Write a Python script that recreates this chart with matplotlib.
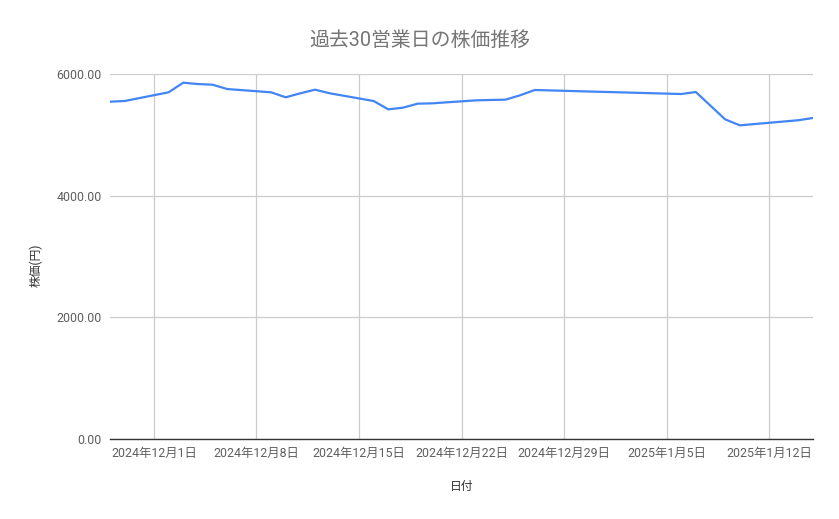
import matplotlib
matplotlib.use('Agg')
import matplotlib.pyplot as plt
import matplotlib.dates as mdates
from matplotlib.ticker import FuncFormatter, FixedLocator
import datetime as dt

plt.rcParams['font.family'] = ['Roboto', 'Noto Sans CJK JP', 'DejaVu Sans']

# 30 business days (Japanese market calendar)
dates = [
    '2024-11-28', '2024-11-29',
    '2024-12-02', '2024-12-03', '2024-12-04', '2024-12-05', '2024-12-06',
    '2024-12-09', '2024-12-10', '2024-12-11', '2024-12-12', '2024-12-13',
    '2024-12-16', '2024-12-17', '2024-12-18', '2024-12-19', '2024-12-20',
    '2024-12-23', '2024-12-24', '2024-12-25', '2024-12-26', '2024-12-27',
    '2024-12-30',
    '2025-01-06', '2025-01-07', '2025-01-08', '2025-01-09', '2025-01-10',
    '2025-01-14', '2025-01-15',
]
prices = [
    5545, 5556,
    5699, 5857, 5835, 5824, 5753,
    5699, 5617, 5683, 5742, 5683,
    5556, 5419, 5446, 5512, 5518,
    5567, 5573, 5578, 5650, 5737,
    5717,
    5671, 5704, 5479, 5255, 5156,
    5240, 5277,
]
y_ticks = [0, 2000, 4000, 6000]

title = '過去30営業日の株価推移'
x_label = '日付'
y_label = '株価(円)'

x = [dt.datetime.strptime(d, '%Y-%m-%d') for d in dates]

fig = plt.figure(figsize=(8.39, 5.19), dpi=100)
ax = fig.add_axes([110/839, 1-439/519, (813-110)/839, (439-74)/519])

ax.plot(x, prices, color='#4285F4', lw=1.6, solid_joinstyle='round')

ax.set_xlim(x[0], x[-1])
ax.set_ylim(0, 6000)

ax.yaxis.set_major_locator(FixedLocator(y_ticks))
ax.yaxis.set_major_formatter(FuncFormatter(lambda v, p: f'{v:.2f}'))
ax.xaxis.set_major_locator(mdates.WeekdayLocator(byweekday=mdates.SU))
ax.xaxis.set_major_formatter(FuncFormatter(
    lambda v, p: (lambda d: f'{d.year}年{d.month}月{d.day}日')(mdates.num2date(v))))

ax.grid(True, color='#cccccc', lw=0.9)
ax.set_axisbelow(True)
for s in ['top', 'right', 'left']:
    ax.spines[s].set_visible(False)
ax.spines['bottom'].set_color('#333333')
ax.spines['bottom'].set_linewidth(1.0)
ax.spines['bottom'].set_zorder(3)

ax.tick_params(axis='both', length=0, labelsize=8.9, colors='#5f5f5f')
ax.tick_params(axis='x', pad=6)
ax.tick_params(axis='y', pad=6)

fig.text(0.5, 1 - 40/519, title, fontsize=14.3, color='#757575',
         ha='center', va='center')
ax.set_xlabel(x_label, fontsize=8.5, color='#333333')
ax.set_ylabel(y_label, fontsize=8.5, color='#333333')
ax.xaxis.set_label_coords(0.5007, -0.129)
ax.yaxis.set_label_coords(-0.105, 0.477)
ax.xaxis.label.set_va('center')
ax.yaxis.label.set_va('center')

fig.savefig('out.png', dpi=100)
